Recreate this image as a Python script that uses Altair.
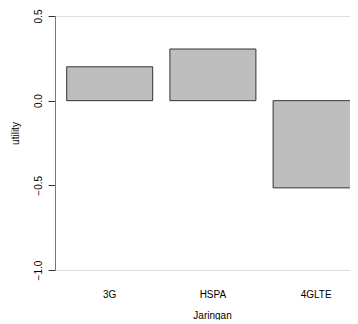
import altair as alt
import pandas as pd

categories = ["3G", "HSPA", "4GLTE"]
utility = [0.20, 0.305, -0.515]
y_ticks = [-1.0, -0.5, 0.0, 0.5]

df = pd.DataFrame({"Jaringan": categories, "utility": utility})

font = "Liberation Sans"

bars = alt.Chart(df).mark_bar(
    fill="#bebebe", stroke="#333333", strokeWidth=1, clip=True
).encode(
    x=alt.X(
        "Jaringan:N",
        sort=categories,
        scale=alt.Scale(range=[11.7, 304.1], paddingInner=0.1667, paddingOuter=0),
        axis=alt.Axis(
            title="Jaringan", domain=False, ticks=False, tickSize=0,
            labelAngle=0, labelPadding=19, labelBaseline="top",
            labelFont=font, labelFontSize=10, labelColor="#000000",
            titleFont=font, titleFontSize=10, titleFontWeight="normal",
            titleColor="#000000", titleX=157, titleY=48,
            titleBaseline="alphabetic", titleAlign="center",
        ),
    ),
    y=alt.Y(
        "utility:Q",
        scale=alt.Scale(domain=[-1.0, 0.5], nice=False, zero=False),
        axis=alt.Axis(
            title="utility", values=y_ticks, format=".1f", grid=False,
            domainColor="#777777", tickColor="#333333", tickSize=7,
            labelAngle=270, labelAlign="center", labelBaseline="middle",
            labelPadding=10, labelFont=font, labelFontSize=10,
            labelColor="#000000", labelOverlap=False,
            titleFont=font, titleFontSize=10, titleFontWeight="normal",
            titleColor="#000000", titleAngle=270, titleX=-37, titleY=117,
            titleBaseline="alphabetic", titleAlign="center",
        ),
    ),
)

chart = bars.properties(
    width=295, height=254,
    autosize=alt.AutoSizeParams(type="none"),
    padding={"left": 47, "top": 8, "right": 0, "bottom": 50},
).configure_view(stroke=None).configure(background="#ffffff")

chart.save("out.html", embed_options={"renderer": "svg", "actions": False})
